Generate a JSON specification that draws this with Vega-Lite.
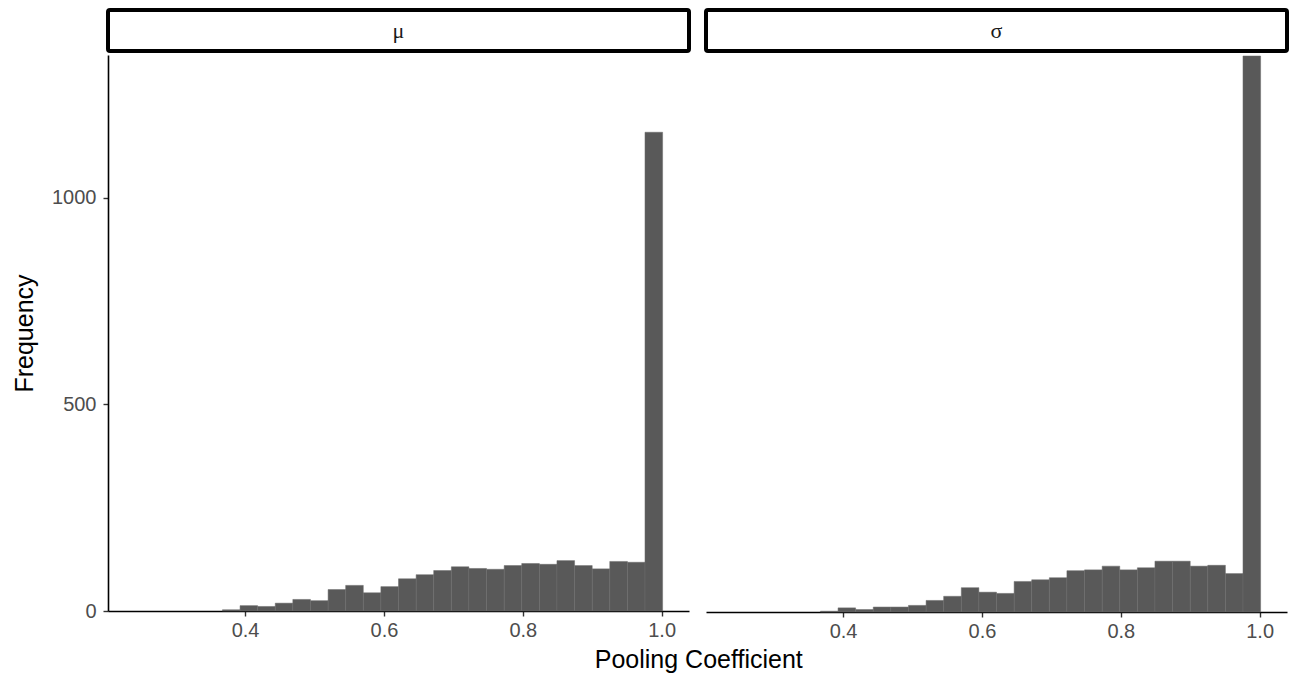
{
  "$schema": "https://vega.github.io/schema/vega-lite/v6.json",
  "padding": {"left": 12, "top": 8, "right": 5, "bottom": 5},
  "background": "white",
  "config": {
    "view": {"stroke": null},
    "font": "Liberation Sans",
    "concat": {"spacing": 13}
  },
  "title": {
    "text": "Pooling Coefficient",
    "orient": "bottom",
    "anchor": "middle",
    "fontSize": 25,
    "fontWeight": "normal",
    "color": "black",
    "font": "Liberation Sans",
    "dx": 48,
    "offset": 7
  },
  "datasets": {
    "bins": [
      {"param": "mu", "bin_start": 0.3674, "bin_end": 0.3928, "count": 3},
      {"param": "mu", "bin_start": 0.3928, "bin_end": 0.4181, "count": 13},
      {"param": "mu", "bin_start": 0.4181, "bin_end": 0.4435, "count": 11},
      {"param": "mu", "bin_start": 0.4435, "bin_end": 0.4688, "count": 19},
      {"param": "mu", "bin_start": 0.4688, "bin_end": 0.4942, "count": 28},
      {"param": "mu", "bin_start": 0.4942, "bin_end": 0.5196, "count": 25},
      {"param": "mu", "bin_start": 0.5196, "bin_end": 0.5449, "count": 52},
      {"param": "mu", "bin_start": 0.5449, "bin_end": 0.5703, "count": 62},
      {"param": "mu", "bin_start": 0.5703, "bin_end": 0.5956, "count": 44},
      {"param": "mu", "bin_start": 0.5956, "bin_end": 0.621, "count": 59},
      {"param": "mu", "bin_start": 0.621, "bin_end": 0.6464, "count": 78},
      {"param": "mu", "bin_start": 0.6464, "bin_end": 0.6717, "count": 88},
      {"param": "mu", "bin_start": 0.6717, "bin_end": 0.6971, "count": 98},
      {"param": "mu", "bin_start": 0.6971, "bin_end": 0.7224, "count": 107},
      {"param": "mu", "bin_start": 0.7224, "bin_end": 0.7478, "count": 103},
      {"param": "mu", "bin_start": 0.7478, "bin_end": 0.7732, "count": 101},
      {"param": "mu", "bin_start": 0.7732, "bin_end": 0.7985, "count": 110},
      {"param": "mu", "bin_start": 0.7985, "bin_end": 0.8239, "count": 115},
      {"param": "mu", "bin_start": 0.8239, "bin_end": 0.8492, "count": 113},
      {"param": "mu", "bin_start": 0.8492, "bin_end": 0.8746, "count": 122},
      {"param": "mu", "bin_start": 0.8746, "bin_end": 0.9, "count": 110},
      {"param": "mu", "bin_start": 0.9, "bin_end": 0.9253, "count": 102},
      {"param": "mu", "bin_start": 0.9253, "bin_end": 0.9507, "count": 120},
      {"param": "mu", "bin_start": 0.9507, "bin_end": 0.976, "count": 118},
      {"param": "mu", "bin_start": 0.976, "bin_end": 1.0014, "count": 1159},
      {"param": "sigma", "bin_start": 0.3674, "bin_end": 0.3928, "count": 2},
      {"param": "sigma", "bin_start": 0.3928, "bin_end": 0.4181, "count": 10},
      {"param": "sigma", "bin_start": 0.4181, "bin_end": 0.4435, "count": 6},
      {"param": "sigma", "bin_start": 0.4435, "bin_end": 0.4688, "count": 12},
      {"param": "sigma", "bin_start": 0.4688, "bin_end": 0.4942, "count": 12},
      {"param": "sigma", "bin_start": 0.4942, "bin_end": 0.5196, "count": 16},
      {"param": "sigma", "bin_start": 0.5196, "bin_end": 0.5449, "count": 28},
      {"param": "sigma", "bin_start": 0.5449, "bin_end": 0.5703, "count": 38},
      {"param": "sigma", "bin_start": 0.5703, "bin_end": 0.5956, "count": 59},
      {"param": "sigma", "bin_start": 0.5956, "bin_end": 0.621, "count": 48},
      {"param": "sigma", "bin_start": 0.621, "bin_end": 0.6464, "count": 45},
      {"param": "sigma", "bin_start": 0.6464, "bin_end": 0.6717, "count": 74},
      {"param": "sigma", "bin_start": 0.6717, "bin_end": 0.6971, "count": 78},
      {"param": "sigma", "bin_start": 0.6971, "bin_end": 0.7224, "count": 83},
      {"param": "sigma", "bin_start": 0.7224, "bin_end": 0.7478, "count": 100},
      {"param": "sigma", "bin_start": 0.7478, "bin_end": 0.7732, "count": 102},
      {"param": "sigma", "bin_start": 0.7732, "bin_end": 0.7985, "count": 111},
      {"param": "sigma", "bin_start": 0.7985, "bin_end": 0.8239, "count": 102},
      {"param": "sigma", "bin_start": 0.8239, "bin_end": 0.8492, "count": 107},
      {"param": "sigma", "bin_start": 0.8492, "bin_end": 0.8746, "count": 123},
      {"param": "sigma", "bin_start": 0.8746, "bin_end": 0.9, "count": 123},
      {"param": "sigma", "bin_start": 0.9, "bin_end": 0.9253, "count": 111},
      {"param": "sigma", "bin_start": 0.9253, "bin_end": 0.9507, "count": 113},
      {"param": "sigma", "bin_start": 0.9507, "bin_end": 0.976, "count": 93},
      {"param": "sigma", "bin_start": 0.976, "bin_end": 1.0014, "count": 1346}
    ],
    "strips": [
      {"param": "mu", "label": "μ"},
      {"param": "sigma", "label": "σ"}
    ]
  },
  "hconcat": [
    {
      "spacing": 2,
      "vconcat": [
        {
          "width": 581,
          "height": 41,
          "data": {"name": "strips"},
          "transform": [{"filter": "datum.param === 'mu'"}],
          "view": {"stroke": "black", "strokeWidth": 4, "cornerRadius": 2, "fill": "white"},
          "mark": {"type": "text", "font": "Liberation Serif", "fontSize": 22, "color": "#1a1a1a", "baseline": "middle", "align": "center"},
          "encoding": {"text": {"field": "label", "type": "nominal"}}
        },
        {
          "width": 581,
          "height": 556,
          "data": {"name": "bins"},
          "transform": [{"filter": "datum.param === 'mu'"}],
          "mark": {"type": "bar", "color": "#595959", "stroke": "#6a6a6a", "strokeWidth": 0.5},
          "encoding": {
            "x": {
              "field": "bin_start",
              "type": "quantitative",
              "scale": {"domain": [0.2026, 1.0394], "nice": false, "zero": false},
              "axis": {
                "values": [0.4, 0.6, 0.8, 1.0],
                "format": ".1f",
                "title": null,
                "grid": false,
                "domainColor": "black",
                "domainWidth": 1.6,
                "tickColor": "#333333",
                "tickWidth": 1.4,
                "tickSize": 5,
                "labelFontSize": 20,
                "labelColor": "#4d4d4d",
                "labelPadding": 4
              }
            },
            "x2": {"field": "bin_end"},
            "y": {
              "field": "count",
              "type": "quantitative",
              "scale": {"domain": [0, 1346], "nice": false},
              "axis": {
                "values": [0, 500, 1000],
                "format": "d",
                "title": "Frequency",
                "titleFontSize": 25,
                "titleFontWeight": "normal",
                "titleColor": "black",
                "titlePadding": 14,
                "grid": false,
                "domainColor": "black",
                "domainWidth": 1.6,
                "tickColor": "#333333",
                "tickWidth": 1.4,
                "tickSize": 5,
                "labelFontSize": 20,
                "labelColor": "#4d4d4d",
                "labelPadding": 7
              }
            },
            "y2": {"datum": 0}
          }
        }
      ]
    },
    {
      "spacing": 2,
      "vconcat": [
        {
          "width": 581,
          "height": 41,
          "data": {"name": "strips"},
          "transform": [{"filter": "datum.param === 'sigma'"}],
          "view": {"stroke": "black", "strokeWidth": 4, "cornerRadius": 2, "fill": "white"},
          "mark": {"type": "text", "font": "Liberation Serif", "fontSize": 22, "color": "#1a1a1a", "baseline": "middle", "align": "center"},
          "encoding": {"text": {"field": "label", "type": "nominal"}}
        },
        {
          "width": 581,
          "height": 556,
          "data": {"name": "bins"},
          "transform": [{"filter": "datum.param === 'sigma'"}],
          "mark": {"type": "bar", "color": "#595959", "stroke": "#6a6a6a", "strokeWidth": 0.5},
          "encoding": {
            "x": {
              "field": "bin_start",
              "type": "quantitative",
              "scale": {"domain": [0.2026, 1.0394], "nice": false, "zero": false},
              "axis": {
                "values": [0.4, 0.6, 0.8, 1.0],
                "format": ".1f",
                "title": null,
                "grid": false,
                "domainColor": "black",
                "domainWidth": 1.6,
                "tickColor": "#333333",
                "tickWidth": 1.4,
                "tickSize": 5,
                "labelFontSize": 20,
                "labelColor": "#4d4d4d",
                "labelPadding": 4
              }
            },
            "x2": {"field": "bin_end"},
            "y": {
              "field": "count",
              "type": "quantitative",
              "scale": {"domain": [0, 1346], "nice": false},
              "axis": null
            },
            "y2": {"datum": 0}
          }
        }
      ]
    }
  ]
}
